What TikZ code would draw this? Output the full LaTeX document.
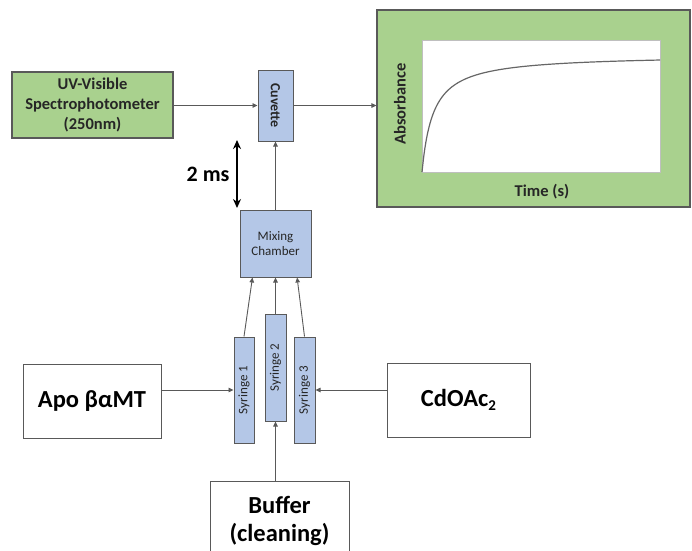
\documentclass[tikz,border=0pt]{standalone}
\usepackage{fontspec}
\setmainfont{Carlito}
\usepackage{tikz}
\usetikzlibrary{calc,arrows.meta,positioning}
\definecolor{boxgreen}{HTML}{A9D18E}
\definecolor{boxblue}{HTML}{B4C7E7}
\definecolor{edgegray}{HTML}{595959}
\definecolor{txt}{HTML}{262626}
\tikzset{
  gbox/.style={rectangle, draw=edgegray, line width=1.1pt, fill=boxgreen, inner sep=0pt, align=center, text=txt, font=\bfseries},
  bbox/.style={rectangle, draw=edgegray, line width=1pt, fill=boxblue, inner sep=0pt, align=center, text=txt},
  wbox/.style={rectangle, draw=edgegray, line width=1pt, fill=white, inner sep=0pt, align=center, text=black, font=\bfseries\fontsize{24.5}{28}\selectfont},
  link/.style={draw=edgegray, line width=0.9pt, -{Triangle[length=5pt,width=4.5pt]}},
}
\begin{document}
\begin{tikzpicture}[x=1pt, y=-1pt]
  \useasboundingbox (0,0) rectangle (692,550);
  \clip (0,0) rectangle (692,550);

  % detector and cell
  \node[gbox, minimum width=161pt, minimum height=66pt, font=\bfseries\fontsize{16.5}{20}\selectfont] (uv) at (92.5,105)
    {UV-Visible\\Spectrophotometer\\(250nm)};
  \node[bbox, minimum width=35pt, minimum height=71pt] (cuv) at (275.5,105.5) {};
  \node[rotate=-90, text=txt, font=\bfseries\fontsize{14}{16}\selectfont] at (cuv) {Cuvette};

  % output trace
  \node[gbox, minimum width=313pt, minimum height=197pt] (graph) at (533.5,108.5) {};
  \node[draw=black!25, line width=1pt, fill=white, minimum width=238pt, minimum height=132pt, inner sep=0pt] (plot) at (541,106) {};
  \draw[black!60, line width=1.2pt] plot[domain=0:238, samples=120, smooth] ({422+\x}, {172-117.3*(\x/(\x+11.3))});
  \node[rotate=90, text=txt, font=\bfseries\fontsize{16.5}{18}\selectfont] (absl) at (400,104) {Absorbance};
  \node[text=txt, font=\bfseries\fontsize{16.5}{18}\selectfont] (timel) at (542,192) {Time (s)};

  % mixing and syringes
  \node[bbox, minimum width=71pt, minimum height=67pt, font=\fontsize{13}{15.5}\selectfont] (mix) at (275.5,243.5) {Mixing\\Chamber};
  \node[bbox, minimum width=20pt, minimum height=106pt] (s1) at (244,390) {};
  \node[bbox, minimum width=21pt, minimum height=107pt] (s2) at (275.5,367.5) {};
  \node[bbox, minimum width=21pt, minimum height=106pt] (s3) at (304.5,390) {};
  \foreach \s/\n in {s1/1, s2/2, s3/3}
    \node[rotate=90, text=txt, font=\fontsize{13}{15}\selectfont] at (\s) {Syringe \n};

  % reagents
  \node[wbox, minimum width=138pt, minimum height=74pt] (apo) at (92,401) {Apo βαMT};
  \node[wbox, minimum width=143pt, minimum height=74pt] (cd) at (458.5,400) {CdOAc\raisebox{-0.35ex}{\fontsize{15}{15}\selectfont 2}};
  \node[wbox, minimum width=139pt, minimum height=79pt] (buf) at (279.5,520.5) {Buffer\\(cleaning)};

  % connectors
  \draw[link] (uv.east |- cuv.west) -- (cuv.west);
  \draw[link] (cuv.east) -- (cuv.east -| graph.west);
  \draw[link] (mix.north -| cuv.south) -- (cuv.south);
  \draw[link] (s1.north) -- ($(mix.south west)!0.18!(mix.south east)$);
  \draw[link] (s2.north) -- (s2.north |- mix.south);
  \draw[link] (s3.north) -- ($(mix.south west)!0.8!(mix.south east)$);
  \draw[link] (s1.west -| apo.east) -- (s1.west);
  \draw[link] (s3.east -| cd.west) -- (s3.east);
  \draw[link] (s2.south |- buf.north) -- (s2.south);

  % dead time
  \coordinate (msTop) at (237,140);
  \coordinate (msBot) at (237,208);
  \draw[black, line width=1.6pt, {Stealth[length=9pt,width=8pt]}-{Stealth[length=9pt,width=8pt]}] (msTop) -- (msBot);
  \node[left=4pt of $(msTop)!0.5!(msBot)$, text=black, font=\bfseries\fontsize{22}{26}\selectfont] (msl) {2 ms};
\end{tikzpicture}
\end{document}
